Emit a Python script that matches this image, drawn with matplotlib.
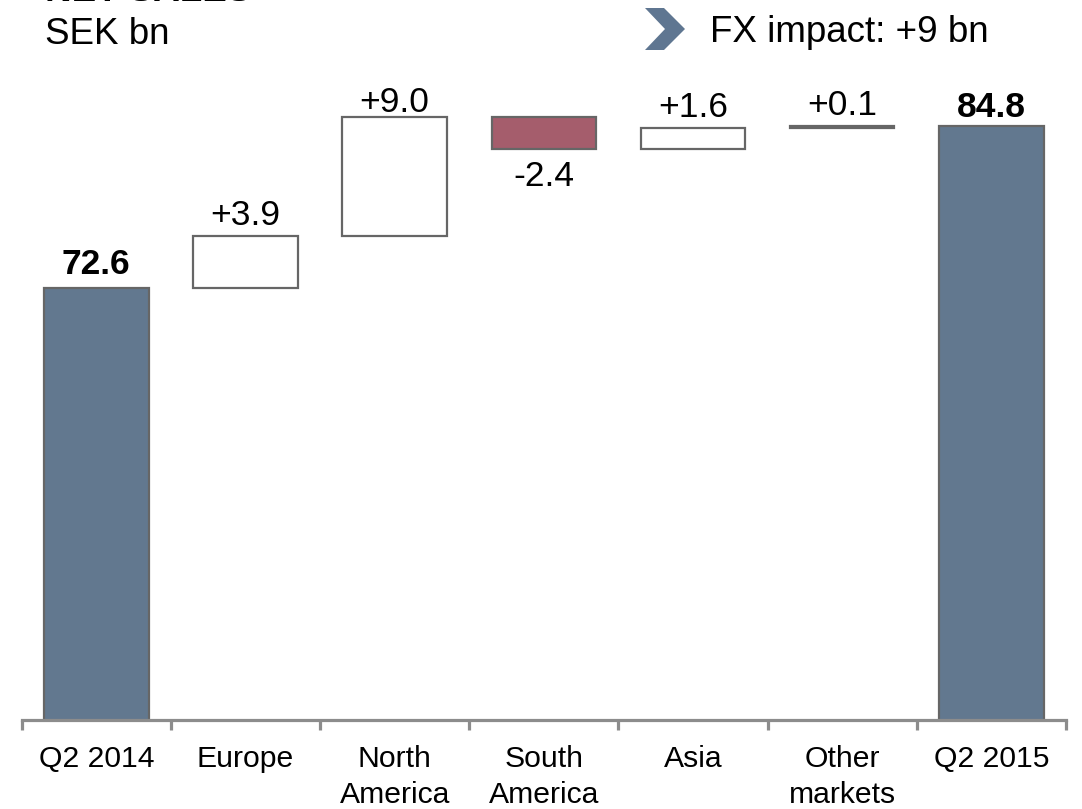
import numpy as np
import matplotlib.pyplot as plt
from matplotlib.patches import Polygon

plt.rcParams['font.family'] = ['Liberation Sans', 'DejaVu Sans']

# ------------------------------------------------------------
# Data (SEK bn)
# ------------------------------------------------------------
categories = ['Q2 2014', 'Europe', 'North\nAmerica', 'South\nAmerica',
              'Asia', 'Other\nmarkets', 'Q2 2015']
start_total = 72.6
changes = [3.9, 9.0, -2.4, 1.6, 0.1]
end_total = 84.8

# ------------------------------------------------------------
# Waterfall geometry
# ------------------------------------------------------------
levels = start_total + np.cumsum([0] + changes)
bottoms = [0] + list(np.minimum(levels[:-1], levels[1:])) + [0]
heights = [start_total] + [abs(c) for c in changes] + [end_total]

total_col = '#62788F'
neg_col = '#A55D6C'
edge_col = '#666666'

fig = plt.figure(figsize=(10.82, 8.09), dpi=100)
ax = fig.add_axes([21.7 / 1082, 1 - 720 / 809, (1066 - 21.7) / 1082, 720 / 809])

x = np.arange(len(categories))
colors = [total_col] + ['white' if c >= 0 else neg_col for c in changes] + [total_col]
ax.bar(x, heights, bottom=bottoms, width=0.70, color=colors,
       edgecolor=edge_col, linewidth=1.6, zorder=2)

# value labels
ax.annotate(f'{start_total:.1f}', (x[0], start_total), xytext=(0, 10),
            textcoords='offset points', ha='center', va='baseline',
            fontsize=25.5, fontweight='bold')
ax.annotate(f'{end_total:.1f}', (x[-1], end_total), xytext=(0, 7),
            textcoords='offset points', ha='center', va='baseline',
            fontsize=25.5, fontweight='bold')
for i, c in enumerate(changes):
    top = max(levels[i], levels[i + 1])
    low = min(levels[i], levels[i + 1])
    if c >= 0:
        off = 4 if i == 1 else 8
        ax.annotate(f'{c:+.1f}', (x[i + 1], top), xytext=(0, off),
                    textcoords='offset points', ha='center', va='baseline',
                    fontsize=25.5)
    else:
        ax.annotate(f'{c:.1f}', (x[i + 1], low), xytext=(0, -8),
                    textcoords='offset points', ha='center', va='top',
                    fontsize=25.5)

# axes styling
ax.set_xlim(-0.5, len(categories) - 0.5)
ax.set_ylim(40, 40 + 720 / 13.25)
for side in ['left', 'right', 'top']:
    ax.spines[side].set_visible(False)
ax.spines['bottom'].set_color('#8C8C8C')
ax.spines['bottom'].set_linewidth(2.3)
ax.set_yticks([])
ax.set_xticks(np.arange(-0.5, len(categories)), labels=[])
ax.tick_params(axis='x', which='major', direction='out', length=7,
               width=2.3, color='#8C8C8C')
ax.set_xticks(x, labels=categories, minor=True)
ax.tick_params(axis='x', which='minor', length=0, pad=18, labelsize=21.7)
for lbl in ax.get_xticklabels(minor=True):
    lbl.set_linespacing(1.35)

# header texts (the title runs off the top edge of the slide)
fig.text(45 / 1082, 1 - 1 / 809, 'NET SALES', fontsize=26.5,
         fontweight='bold', va='baseline', ha='left')
fig.text(45 / 1082, 1 - 34 / 809, 'SEK bn', fontsize=26.5,
         va='center', ha='left')
fig.text(710 / 1082, 1 - 32 / 809, 'FX impact: +9 bn', fontsize=26.5,
         va='center', ha='left')

# chevron marker
chev = np.array([(645, 8), (664, 8), (685, 29), (664, 50), (645, 50), (665, 29)],
                dtype=float)
chev[:, 0] /= 1082
chev[:, 1] = 1 - chev[:, 1] / 809
fig.patches.append(Polygon(chev, closed=True, transform=fig.transFigure,
                           facecolor='#5F7691', edgecolor='none'))

fig.savefig('out.png', dpi=100)
